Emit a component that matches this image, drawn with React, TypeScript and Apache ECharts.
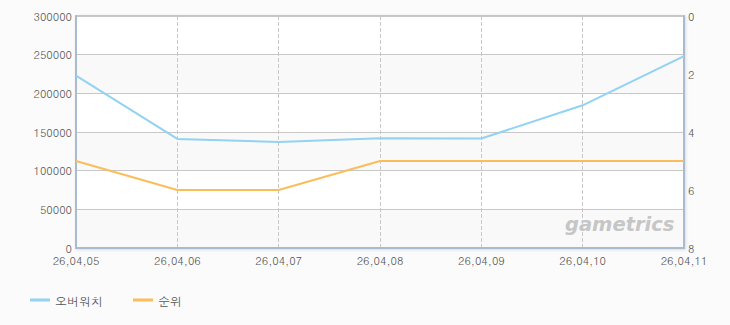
import React, { useEffect, useRef } from "react";
import * as echarts from "echarts";

const categories = ["26,04,05", "26,04,06", "26,04,07", "26,04,08", "26,04,09", "26,04,10", "26,04,11"];
const viewers = [223000, 141000, 137000, 141800, 141500, 184500, 248000];
const ranks = [5, 6, 6, 5, 5, 5, 5];
const seriesNames = ["오버워치", "순위"];

export default function App() {
  const ref = useRef<HTMLDivElement>(null);
  useEffect(() => {
    const chart = echarts.init(ref.current!, null, { renderer: "svg" });
    const font = "Dotum, 'Noto Sans CJK KR', 'DejaVu Sans', sans-serif";
    chart.setOption({
      animation: false,
      backgroundColor: "#fbfbfb",
      textStyle: { fontFamily: font },
      grid: {
        left: 76,
        right: 46,
        top: 16,
        bottom: 77,
        show: true,
        backgroundColor: "#ffffff",
        borderColor: "#b8cadc",
        borderWidth: 2,
        shadowColor: "rgba(0,0,0,0.12)",
        shadowBlur: 3,
        shadowOffsetX: 1,
        shadowOffsetY: 1,
      },
      legend: {
        left: 25,
        bottom: 14,
        itemWidth: 20,
        itemHeight: 3,
        itemGap: 30,
        icon: "rect",
        textStyle: { color: "#555", fontSize: 12, fontFamily: font },
        data: seriesNames,
      },
      xAxis: {
        type: "category",
        data: categories,
        boundaryGap: false,
        axisLine: { lineStyle: { color: "#a9bccf", width: 2 } },
        axisTick: { show: false },
        axisLabel: { color: "#555", fontSize: 11, margin: 7, fontFamily: font },
        splitLine: { show: true, lineStyle: { color: "#c8c8c8", type: "dashed", width: 1 } },
      },
      yAxis: [
        {
          type: "value",
          min: 0,
          max: 300000,
          interval: 50000,
          axisLine: { show: true, lineStyle: { color: "#a9bccf", width: 2 } },
          axisTick: { show: false },
          axisLabel: {
            color: "#555",
            fontSize: 11,
            margin: 4,
            fontFamily: font,
            formatter: (v: number) => String(v),
          },
          splitLine: { show: true, lineStyle: { color: "#c8c8c8", width: 1 } },
          splitArea: { show: true, areaStyle: { color: ["#f9f9f9", "#ffffff"] } },
        },
        {
          type: "value",
          min: 0,
          max: 8,
          interval: 2,
          inverse: true,
          axisLine: { show: true, lineStyle: { color: "#a9bccf", width: 2 } },
          axisTick: { show: false },
          axisLabel: { color: "#555", fontSize: 11, margin: 4, fontFamily: font },
          splitLine: { show: false },
        },
      ],
      graphic: [
        {
          type: "text",
          x: 565,
          y: 214,
          silent: true,
          z: 100,
          style: {
            text: "gametrics",
            fontSize: 19.5,
            fontStyle: "italic",
            fontWeight: "bold",
            fontFamily: "'DejaVu Sans', sans-serif",
            fill: "#c6c6c6",
            align: "left",
            verticalAlign: "top",
          },
        },
      ],
      series: [
        {
          name: seriesNames[0],
          type: "line",
          data: viewers,
          yAxisIndex: 0,
          symbol: "none",
          color: "#92d2f2",
          lineStyle: { width: 2, color: "#92d2f2" },
        },
        {
          name: seriesNames[1],
          type: "line",
          data: ranks,
          yAxisIndex: 1,
          symbol: "none",
          color: "#fbbd5c",
          lineStyle: { width: 2, color: "#fbbd5c" },
        },
      ],
    });
    return () => chart.dispose();
  }, []);
  return <div ref={ref} style={{ position: "fixed", left: 0, top: 0, width: 730, height: 325 }} />;
}
